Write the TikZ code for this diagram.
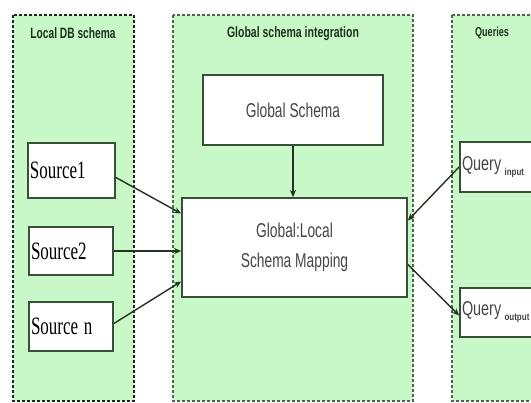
\documentclass[tikz,border=0pt]{standalone}
\usepackage{fontspec}
\usepackage{graphicx}
\setmainfont{Liberation Sans}
\newfontfamily\srcfont{Liberation Serif}
\usetikzlibrary{arrows.meta}
\definecolor{panelfill}{RGB}{200,247,200}
\definecolor{paneledge}{RGB}{30,40,30}
\definecolor{midedge}{RGB}{80,100,80}
\definecolor{boxedge}{RGB}{55,80,55}
\definecolor{hdrtext}{RGB}{30,50,30}
\definecolor{boxtext}{RGB}{70,70,70}
\definecolor{arrowcol}{RGB}{35,50,35}
\newcommand\hsq[1]{\scalebox{0.69}[1]{#1}}
\newcommand\qsub[1]{\raisebox{-5pt}{\bfseries\fontsize{10}{11}\selectfont\scalebox{0.8}[1]{#1}}}
\tikzset{
  panel/.style={fill=panelfill, draw=paneledge, line width=1.6pt, dash pattern=on 3pt off 2pt},
  panelthin/.style={fill=panelfill, draw=midedge, line width=1.1pt, dash pattern=on 3pt off 2pt},
  hdr/.style={font=\bfseries\fontsize{15}{18}\selectfont, text=hdrtext, inner sep=0pt},
  srcbox/.style={draw=boxedge, fill=white, line width=1.8pt, inner sep=0pt, align=left,
     font=\srcfont\fontsize{25}{28}\selectfont, text=black},
  sansbox/.style={draw=boxedge, fill=white, line width=1.8pt, inner sep=0pt, align=center,
     font=\fontsize{20}{30}\selectfont, text=boxtext},
  conn/.style={draw=arrowcol, line width=1.4pt, -{Stealth[length=7pt,width=6pt]}}
}
\begin{document}
\begin{tikzpicture}[x=1pt,y=-1pt]
\useasboundingbox (0,0) rectangle (531,403);
\clip (0,0) rectangle (531,403);
\fill[white] (0,0) rectangle (531,403);
% panels
\draw[panel] (13,15) rectangle (134,401);
\draw[panelthin] (173,15) rectangle (413,401);
\draw[panelthin] (452,15) rectangle (545,401);
% headers
\node[hdr] (h1) at (73,33) {\scalebox{0.68}[1]{Local DB schema}};
\node[hdr] (h2) at (293,34) {\scalebox{0.70}[1]{Global schema integration}};
\node[hdr, font=\bfseries\fontsize{13}{16}\selectfont] (h3) at (492,33) {\scalebox{0.70}[1]{Queries}};
% source boxes
\node[srcbox, minimum width=87pt, minimum height=55pt, text width=83pt] (s1) at (71.5,170.5) {\scalebox{0.68}[1]{Source1}};
\node[srcbox, minimum width=84pt, minimum height=48pt, text width=80pt] (s2) at (71,251) {\scalebox{0.68}[1]{Source2}};
\node[srcbox, minimum width=84pt, minimum height=49pt, text width=80pt] (sn) at (71,326.5) {\scalebox{0.68}[1]{Source n}};
% global boxes
\node[sansbox, minimum width=180pt, minimum height=70pt] (gs) at (293,110) {\hsq{Global Schema}};
\node[sansbox, minimum width=225pt, minimum height=99pt] (map) at (294.5,247.5) {\hsq{Global:Local}\\\hsq{Schema Mapping}};
% query boxes
\node[sansbox, minimum width=90pt, minimum height=50pt, text width=86pt, align=left, font=\fontsize{20}{22}\selectfont] (qin) at (505,167) {\scalebox{0.72}[1]{Query}\,\qsub{input}};
\node[sansbox, minimum width=90pt, minimum height=49pt, text width=86pt, align=left, font=\fontsize{20}{22}\selectfont] (qout) at (505,312.5) {\scalebox{0.72}[1]{Query}\,\qsub{output}};
% connectors
\draw[conn] (gs.south) -- (gs.south |- map.north);
\draw[conn] ([yshift=-7pt]s1.east) -- ([yshift=34pt]map.west);
\draw[conn] (s2.east) -- (s2.east -| map.west);
\draw[conn] ([yshift=3pt]sn.east) -- ([yshift=-34pt]map.west);
\draw[conn] (qin.west) -- ([yshift=27pt]map.east);
\draw[conn] ([yshift=-17pt]map.east) -- ([yshift=-3pt]qout.west);
\end{tikzpicture}
\end{document}
